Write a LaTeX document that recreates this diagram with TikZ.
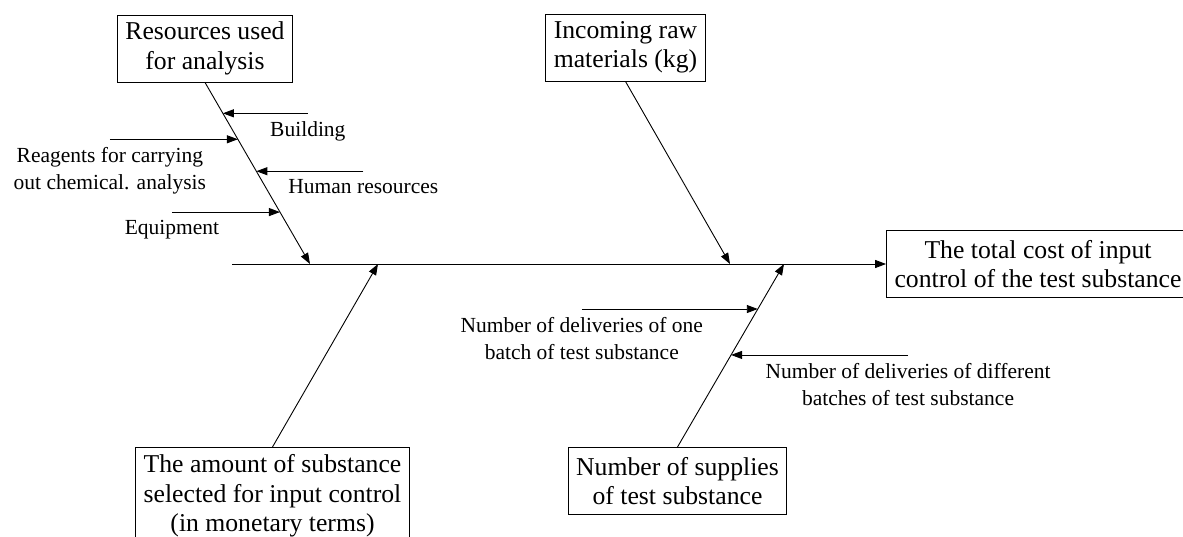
\documentclass[tikz,border=0pt]{standalone}
\usepackage{fontspec}
\setmainfont{Liberation Serif}
\usetikzlibrary{arrows.meta, positioning, calc}

\tikzset{
  causebox/.style={draw, line width=0.9pt, align=center, inner xsep=8pt, inner ysep=7pt,
    minimum height=67pt, font=\fontsize{25.7}{29.5}\selectfont},
  bone/.style={line width=0.9pt, -{Triangle[length=11pt, width=8pt]}},
  twig/.style={line width=0.9pt, -{Triangle[length=11pt, width=8pt]}},
  twiglabel/.style={align=center, inner sep=3pt, font=\fontsize{21.5}{27}\selectfont}
}

\begin{document}
\begin{tikzpicture}[x=1pt, y=-1pt]
  \useasboundingbox (0,0) rectangle (1183,537);
  \clip (0,0) rectangle (1183,537);

  \pgfmathsetmacro{\yspine}{264}

  % head and spine
  \node[causebox] (effect) at (1038,\yspine) {The total cost of input\\control of the test substance};
  \coordinate (tail) at (232,\yspine);
  \draw[bone] (tail) -- (effect.west);

  % main causes
  \node[causebox] (res) at (205,48.5) {Resources used\\for analysis};
  \node[causebox] (inc) at (625.5,47.5) {Incoming raw\\materials (kg)};
  \node[causebox, anchor=north] (amt) at (272.5,447) {The amount of substance\\selected for input control\\(in monetary terms)};
  \node[causebox, anchor=north] (sup) at (677.5,447) {Number of supplies\\of test substance};

  \foreach \j/\x in {j1/310, j2/730, j3/378, j4/784}
    \coordinate (\j) at (\x,\yspine);

  \draw[bone] (res.south) -- coordinate[pos=0.170] (r1) coordinate[pos=0.313] (r2)
    coordinate[pos=0.489] (r3) coordinate[pos=0.714] (r4) (j1);
  \draw[bone] (inc.south) -- (j2);
  \draw[bone] (amt.north) -- (j3);
  \draw[bone] (sup.north) -- coordinate[pos=0.754] (s1) coordinate[pos=0.503] (s2) (j4);

  % sub causes
  \foreach \c/\dx/\txt in {r1/85/{Building},
      r2/-128/{Reagents for carrying\\out chemical. analysis},
      r3/107/{Human resources},
      r4/-108/{Equipment},
      s1/-176/{Number of deliveries of one\\batch of test substance},
      s2/177/{Number of deliveries of different\\batches of test substance}} {
      \coordinate (\c a) at ($(\c)+(\dx,0)$);
      \draw[twig] (\c a) -- (\c);
      \node[twiglabel, below=5pt of \c a] (\c l) {\txt};
    }
\end{tikzpicture}
\end{document}
